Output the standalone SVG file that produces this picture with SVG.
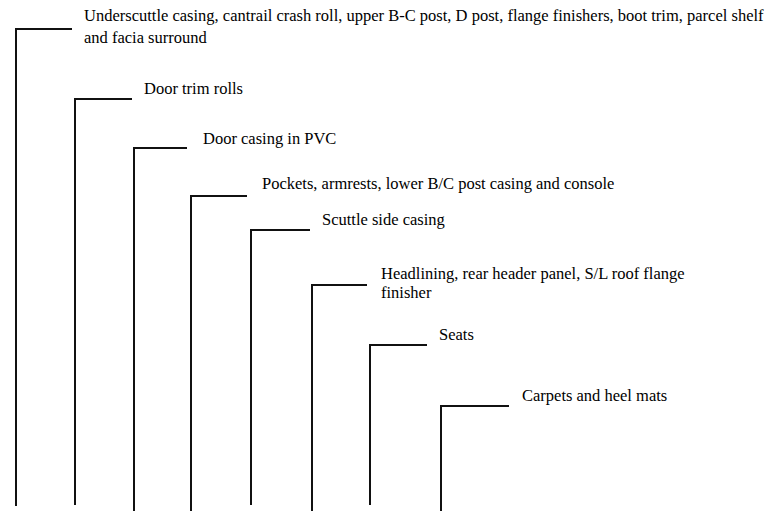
<svg xmlns="http://www.w3.org/2000/svg" width="774" height="511" viewBox="0 0 774 511">
<style>
.c{fill:none;stroke:#111;stroke-width:2}
text{font-family:"Liberation Serif","Times New Roman",serif;font-size:16.5px;fill:#000}
</style>
<rect width="774" height="511" fill="#fff"/>
<g id="connectors">
<path class="c" d="M16,506V29H72"/>
<path class="c" d="M75,505V99H132"/>
<path class="c" d="M134,511V148H187"/>
<path class="c" d="M191,511V196H247"/>
<path class="c" d="M251,505V230H310"/>
<path class="c" d="M312,511V285H367"/>
<path class="c" d="M370,505V345H427"/>
<path class="c" d="M441,511V406H509"/>
</g>
<g id="n1"><text x="84" y="21">Underscuttle casing, cantrail crash roll, upper B-C post, D post, flange finishers, boot trim, parcel shelf</text><text x="84" y="43">and facia surround</text></g>
<g id="n2"><text x="144" y="94">Door trim rolls</text></g>
<g id="n3"><text x="203" y="144">Door casing in PVC</text></g>
<g id="n4"><text x="262" y="189">Pockets, armrests, lower B/C post casing and console</text></g>
<g id="n5"><text x="322" y="225">Scuttle side casing</text></g>
<g id="n6"><text x="381" y="279">Headlining, rear header panel, S/L roof flange</text><text x="381" y="298">finisher</text></g>
<g id="n7"><text x="439" y="340">Seats</text></g>
<g id="n8"><text x="522" y="401">Carpets and heel mats</text></g>
</svg>
